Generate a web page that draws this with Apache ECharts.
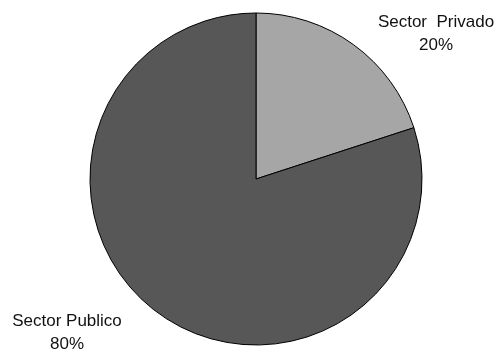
<!DOCTYPE html>
<html>
<head>
<meta charset="utf-8">
<script src="https://cdn.jsdelivr.net/npm/echarts@6/dist/echarts.min.js"></script>
<style>
html,body{margin:0;padding:0;background:#fff;}
#chart{width:499px;height:350px;}
</style>
</head>
<body>
<div id="chart"></div>
<script>
var categories = ['Sector  Privado', 'Sector Publico'];
var values = [20, 80];
var colors = ['#a6a6a6', '#575757'];

var labelPos = [[436, 34], [67, 333]];

var chart = echarts.init(document.getElementById('chart'), null, {renderer: 'canvas'});
chart.setOption({
  animation: false,
  backgroundColor: '#ffffff',
  series: [{
    type: 'pie',
    center: [256, 179],
    radius: 166,
    startAngle: 90,
    clockwise: true,
    data: categories.map(function (c, i) {
      return {name: c, value: values[i], itemStyle: {color: colors[i]}};
    }),
    itemStyle: {borderColor: '#000', borderWidth: 1},
    label: {
      show: true,
      position: 'inside',
      overflow: 'none',
      formatter: function (p) { return p.name + '\n' + Math.round(p.percent) + '%'; },
      fontFamily: 'Liberation Sans, Arial, sans-serif',
      fontSize: 17,
      lineHeight: 23,
      color: '#111',
      align: 'center'
    },
    labelLine: {show: false},
    labelLayout: function (params) {
      var p = labelPos[params.dataIndex];
      return {x: p[0], y: p[1], align: 'center', verticalAlign: 'middle'};
    },
    emphasis: {disabled: true}
  }]
});
</script>
</body>
</html>
